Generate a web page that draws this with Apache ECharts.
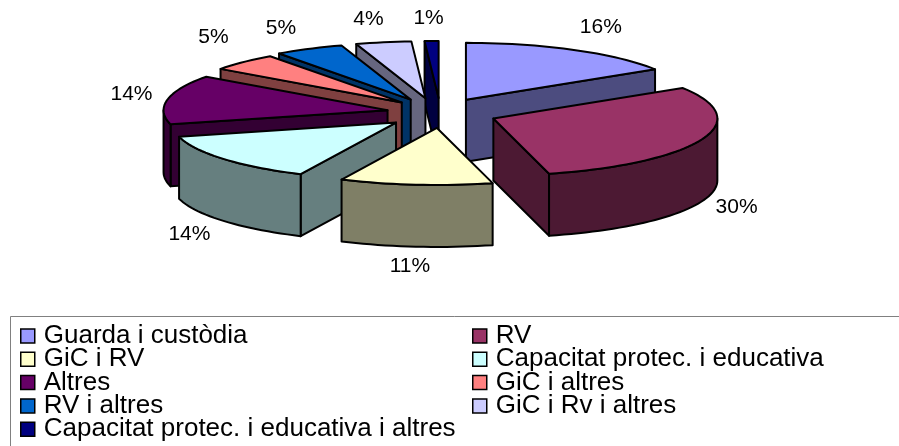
<!DOCTYPE html>
<html>
<head>
<meta charset="utf-8">
<style>html,body{margin:0;padding:0;background:#fff}#c{width:899px;height:446px}</style>
<script src="https://cdn.jsdelivr.net/npm/echarts@6/dist/echarts.min.js"></script>
</head>
<body>
<div id="c"></div>
<script>
// ---- data ----
var categories = ['Guarda i custòdia','RV','GiC i RV','Capacitat protec. i educativa','Altres','GiC i altres','RV i altres','GiC i Rv i altres','Capacitat protec. i educativa i altres'];
var percentages = [16,30,11,14,14,5,5,4,1];
var colors = ['#9999FF','#993366','#FFFFCC','#CCFFFF','#660066','#FF8080','#0066CC','#CCCCFF','#000080'];
var legendLeft = ['Guarda i custòdia','GiC i RV','Altres','RV i altres','Capacitat protec. i educativa i altres'];
var legendRight = ['RV','Capacitat protec. i educativa','GiC i altres','GiC i Rv i altres'];

// ---- 3D pie projection layout ----
var pie = {cx:437.5, cy:113, rx:224, ry:57, depth:62, explodeX:59, explodeY:15};
var sliceNudgeX = [0,1,5,4,8,6,0,-1,3];           // per-slice explosion trim
var labelNudge = [[27,-23],[35,68],[-6,82],[-34,75],[-36,-5],[-30,-25],[-28,-21],[-15,-23],[-3,-23]];
var paintOrder = [0,8,7,6,5,4,3,2,1];             // back to front

var total = percentages.reduce(function(a,b){return a+b;},0);
var cum = 0;
var geo = percentages.map(function(v,i){
  var s = cum/total*360; cum += v; var e = cum/total*360; var m = (s+e)/2*Math.PI/180;
  return {start:s,end:e,
    ax:pie.cx+pie.explodeX*Math.sin(m)+sliceNudgeX[i],
    ay:pie.cy-pie.explodeY*Math.cos(m), mid:m};
});
function rim(g,deg,drop){
  var t=deg*Math.PI/180;
  return [g.ax+pie.rx*Math.sin(t), g.ay-pie.ry*Math.cos(t)+(drop||0)];
}
function arcPts(g,a,b,drop){
  var n=Math.max(2,Math.ceil((b-a)/2)),p=[];
  for(var k=0;k<=n;k++) p.push(rim(g,a+(b-a)*k/n,drop));
  return p;
}
function darken(hex){
  var n=parseInt(hex.slice(1),16);
  var r=(n>>16&255)>>1,gg=(n>>8&255)>>1,b=(n&255)>>1;
  return 'rgb('+r+','+gg+','+b+')';
}
function poly(points,fill){
  return {type:'polygon',shape:{points:points},style:{fill:fill,stroke:'#000',lineWidth:2,lineJoin:'round'}};
}
function renderSlice(i){
  return function(params,api){
    var g=geo[i],side=darken(colors[i]),ch=[],d=pie.depth;
    var sinS=Math.sin(g.start*Math.PI/180),sinE=Math.sin(g.end*Math.PI/180);
    // radial walls facing the viewer
    if(sinS<-1e-6){var o=rim(g,g.start);ch.push(poly([[g.ax,g.ay],o,[o[0],o[1]+d],[g.ax,g.ay+d]],side));}
    if(sinE>1e-6){var q=rim(g,g.end);ch.push(poly([[g.ax,g.ay],q,[q[0],q[1]+d],[g.ax,g.ay+d]],side));}
    // outer wall (front half of the rim)
    var a=Math.max(g.start,90),b=Math.min(g.end,270);
    if(b>a){ch.push(poly(arcPts(g,a,b,0).concat(arcPts(g,a,b,d).reverse()),side));}
    // top
    ch.push(poly([[g.ax,g.ay]].concat(arcPts(g,g.start,g.end,0)),colors[i]));
    // percentage label
    var mp=[g.ax+pie.rx*Math.sin(g.mid),g.ay-pie.ry*Math.cos(g.mid)];
    ch.push({type:'text',z2:100,style:{text:api.value(0)+'%',x:mp[0]+labelNudge[i][0],y:mp[1]+labelNudge[i][1],
      align:'center',verticalAlign:'middle',fontFamily:'Liberation Sans',fontSize:21,fill:'#000'}});
    return {type:'group',children:ch};
  };
}
var series = categories.map(function(name,i){
  return {type:'custom',name:name,coordinateSystem:'none',data:[[percentages[i]]],
    z:2+paintOrder.indexOf(i),silent:true,animation:false,
    itemStyle:{color:colors[i]},renderItem:renderSlice(i)};
});
function legendFor(names,left){
  return {show:true,orient:'vertical',left:left,top:323,height:200,padding:0,data:names,icon:'rect',
    itemWidth:14,itemHeight:14,itemGap:-2.7,selectedMode:false,
    itemStyle:{borderColor:'#000',borderWidth:1.5},
    textStyle:{fontFamily:'Liberation Sans',fontSize:26,color:'#000',padding:[0,0,0,4]}};
}
var chart = echarts.init(document.getElementById('c'),null,{renderer:'canvas'});
chart.setOption({
  animation:false,backgroundColor:'#fff',
  legend:[legendFor(legendLeft,20),legendFor(legendRight,472)],
  graphic:[{type:'polyline',z:0,shape:{points:[[10.5,446],[10.5,316.5],[899,316.5]]},
    style:{stroke:'#808080',lineWidth:1,fill:'none'}}],
  series:series
});
</script>
</body>
</html>
